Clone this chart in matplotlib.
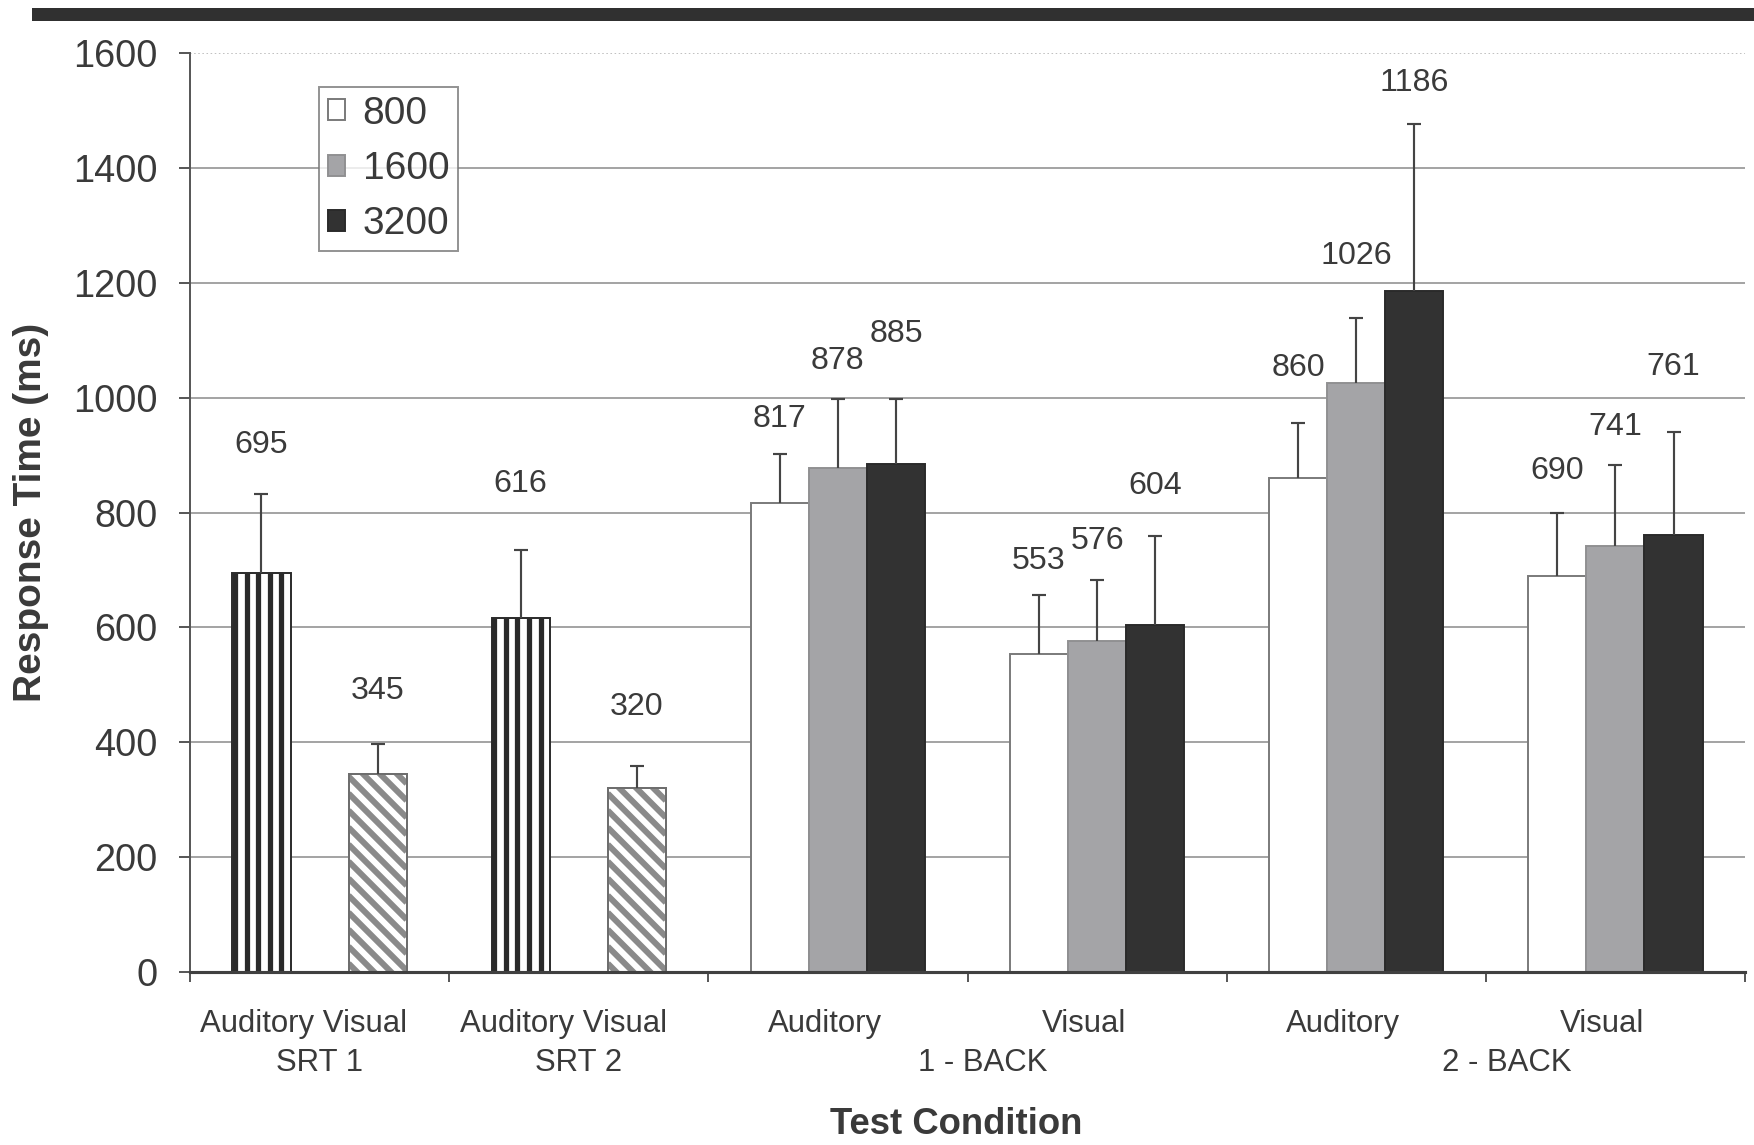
import matplotlib
matplotlib.use("Agg")
import numpy as np
import matplotlib.pyplot as plt
from matplotlib.patches import Patch, Rectangle

# response times (ms) and upper error bars
srt_names = ["SRT 1", "SRT 2"]
srt_auditory = [695, 616]
srt_auditory_err = [138, 118]
srt_visual = [345, 320]
srt_visual_err = [52, 38]

nback_cells = ["Auditory", "Visual", "Auditory", "Visual"]
nback_names = ["1 - BACK", "2 - BACK"]
rates = ["800", "1600", "3200"]
rt_800 = [817, 553, 860, 690]
err_800 = [84, 103, 96, 110]
rt_1600 = [878, 576, 1026, 741]
err_1600 = [119, 107, 113, 141]
rt_3200 = [885, 604, 1186, 761]
err_3200 = [112, 155, 291, 179]

# heights of the value labels (axis units)
srt_aud_label_y = [917, 849]
srt_vis_label_y = [489, 461]
label_y_800 = [962, 716, 1051, 872]
label_y_1600 = [1063, 751, 1246, 948]
label_y_3200 = [1111, 847, 1547, 1053]

plt.rcParams["font.family"] = ["Liberation Sans", "DejaVu Sans"]
plt.rcParams["text.color"] = "#333333"

DPI = 140
W, H = 1754, 1145
AX_RECT = [0.1083, 0.1511, 0.8866, 0.8026]
XLIM = (-0.5, 5.5)
YLIM = (0, 1600)
fig = plt.figure(figsize=(W / DPI, H / DPI), dpi=DPI)
ax = fig.add_axes(AX_RECT)

# pixels per data unit, used to lay out the stripe fills
px_x = W * AX_RECT[2] / (XLIM[1] - XLIM[0])
px_y = H * AX_RECT[3] / (YLIM[1] - YLIM[0])

w = 0.224
TXT = "#3a3a3a"


def vertical_stripes(x, h, color):
    bars = ax.bar(x, h, w, color="white", edgecolor=color, linewidth=1.0, zorder=2)
    for b in bars:
        x0, bw, bh = b.get_x(), b.get_width(), b.get_height()
        for k in range(5):
            xs = x0 + (k + 0.22) * bw / 5
            ln, = ax.plot([xs, xs], [0, bh], color=color, lw=2.7,
                          solid_capstyle="butt", zorder=2.05,
                          scalex=False, scaley=False)
            ln.set_clip_path(b)


def diagonal_stripes(x, h, color, edge, step_px=17, lw=3.1):
    bars = ax.bar(x, h, w, color="white", edgecolor=edge, linewidth=1.0, zorder=2)
    slope = px_x / px_y  # 45 degrees on screen
    for b in bars:
        x0, bw, bh = b.get_x(), b.get_width(), b.get_height()
        dy = step_px / px_y
        c = -dy * 0.5
        while c < bh + bw * slope + dy:
            ln, = ax.plot([x0, x0 + bw], [c, c - bw * slope], color=color,
                          lw=lw, solid_capstyle="butt", zorder=2.05,
                          scalex=False, scaley=False)
            ln.set_clip_path(b)
            c += dy
        ax.bar(b.get_x() + bw / 2, bh, bw, fill=False, edgecolor=edge,
               linewidth=1.0, zorder=2.1)


def upper_err(x, y, e):
    _, caps, _ = ax.errorbar(x, y, yerr=[np.zeros(len(y)), e], fmt="none",
                             ecolor="#444444", elinewidth=1.1, capsize=3.4,
                             capthick=1.1, zorder=3)
    caps[0].set_visible(False)


def value_labels(x, vals, ys):
    for xi, v, yi in zip(x, vals, ys):
        ax.text(xi, yi, str(v), ha="center", va="center", fontsize=16.5,
                color=TXT, zorder=4)


# SRT conditions: single bars in the outer slots
srt_x = np.arange(len(srt_names))
vertical_stripes(srt_x - w, srt_auditory, "#2a2a2a")
diagonal_stripes(srt_x + w, srt_visual, "#8a8a8a", "#6e6e6e")
upper_err(srt_x - w, srt_auditory, srt_auditory_err)
upper_err(srt_x + w, srt_visual, srt_visual_err)
value_labels(srt_x - w, srt_auditory, srt_aud_label_y)
value_labels(srt_x + w, srt_visual, srt_vis_label_y)

# n-back conditions: three presentation rates
nb_x = np.arange(len(nback_cells)) + len(srt_names)
series = [
    (rt_800, err_800, label_y_800, "white", "#7a7a7a", -w),
    (rt_1600, err_1600, label_y_1600, "#a4a4a7", "#909092", 0.0),
    (rt_3200, err_3200, label_y_3200, "#323232", "#2a2a2a", w),
]
for vals, errs, ly, fc, ec, off in series:
    ax.bar(nb_x + off, vals, w, color=fc, edgecolor=ec, linewidth=1.0, zorder=2)
    upper_err(nb_x + off, vals, errs)
    value_labels(nb_x + off, vals, ly)

ax.set_xlim(*XLIM)
ax.set_ylim(*YLIM)
ax.set_yticks(np.arange(0, 1601, 200))
ax.set_xticks(np.arange(-0.5, 5.6, 1.0))
ax.set_xticklabels([])
ax.tick_params(axis="y", direction="out", length=5.5, width=1.0, color="#555555",
               labelsize=19.5, labelcolor=TXT, pad=11)
ax.tick_params(axis="x", direction="out", length=5, width=1.0, color="#555555")
ax.set_axisbelow(True)
ax.yaxis.grid(True, color="#8c8c8c", linewidth=0.8)
ax.get_ygridlines()[-1].set_linestyle(":")
ax.get_ygridlines()[-1].set_color("#b0b0b0")
for s in ("top", "right"):
    ax.spines[s].set_visible(False)
ax.spines["left"].set_color("#555555")
ax.spines["left"].set_linewidth(1.0)
ax.spines["bottom"].set_color("#404040")
ax.spines["bottom"].set_linewidth(1.6)

# category labels under the axis
tx = ax.get_xaxis_transform()
for xi, nm in zip(srt_x, srt_names):
    ax.text(xi - 0.06, -0.057, "Auditory Visual", transform=tx, ha="center",
            va="center", fontsize=16, color=TXT)
    ax.text(xi, -0.099, nm, transform=tx, ha="center", va="center",
            fontsize=16, color=TXT)
for xi, nm in zip(nb_x, nback_cells):
    ax.text(xi - 0.05, -0.057, nm, transform=tx, ha="center", va="center",
            fontsize=16, color=TXT)
for xi, nm in zip([2.56, 4.58], nback_names):
    ax.text(xi, -0.099, nm, transform=tx, ha="center", va="center",
            fontsize=16, color=TXT)

fig.text(0.545, 0.0183, "Test Condition", ha="center", va="center",
         fontsize=18.8, fontweight="bold", color=TXT)
fig.text(0.0177, 0.5528, "Response Time (ms)", ha="center", va="center",
         rotation=90, fontsize=20, fontweight="bold", color=TXT)

handles = [Patch(facecolor=c, edgecolor=e, linewidth=1.0)
           for c, e in [("white", "#7a7a7a"), ("#a4a4a7", "#909092"),
                        ("#323232", "#2a2a2a")]]
leg = ax.legend(handles, rates, loc="upper left",
                bbox_to_anchor=(319 / W, 1 - 87 / H),
                bbox_transform=fig.transFigure, fontsize=20, frameon=True,
                fancybox=False, handlelength=0.45, handleheight=0.45,
                handletextpad=0.45, labelspacing=0.5, borderpad=0.22,
                borderaxespad=0)
leg.get_frame().set_edgecolor("#777777")
leg.get_frame().set_linewidth(1.0)
for t in leg.get_texts():
    t.set_color(TXT)

# heavy rule along the top of the page
fig.add_artist(Rectangle((32 / W, 1 - 21 / H), 1 - 32 / W, 13 / H,
                         transform=fig.transFigure, color="#303030", lw=0))

fig.savefig("out.png", dpi=DPI)
